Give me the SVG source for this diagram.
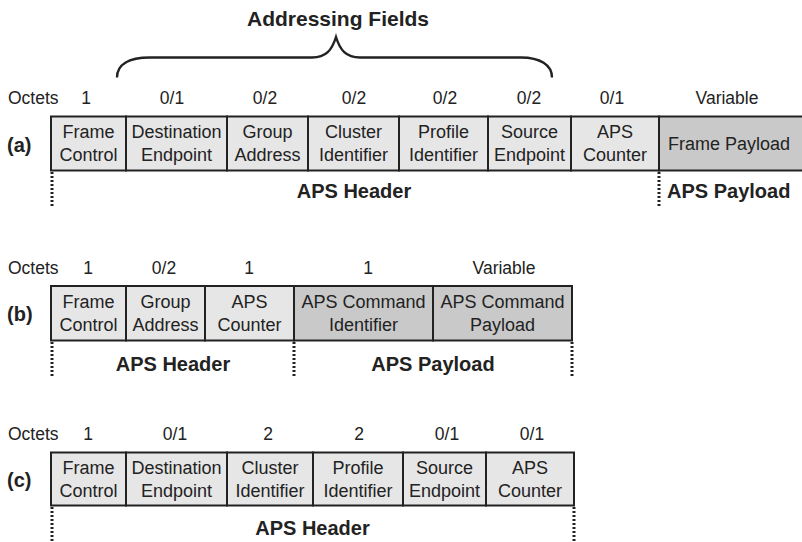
<svg xmlns="http://www.w3.org/2000/svg" width="802" height="542" viewBox="0 0 802 542">
<style>
  text { font-family: "Liberation Sans", Arial, sans-serif; fill: #222; }
  .t { font-size: 18px; text-anchor: middle; }
  .o { font-size: 17.5px; text-anchor: middle; }
  .ol { font-size: 17.5px; }
  .b { font-size: 20px; font-weight: bold; text-anchor: middle; }
  .lab { font-size: 20px; font-weight: bold; }
  .h { fill: #e6e6e6; stroke: #222; stroke-width: 2; }
  .p { fill: #c9c9c9; stroke: #222; stroke-width: 2; }
  .dot { stroke: #222; stroke-width: 3; stroke-dasharray: 2 2; fill: none; }
  .brace { stroke: #222; stroke-width: 2.4; fill: none; }
</style>
<rect width="802" height="542" fill="#fff"/>

<!-- Addressing Fields brace -->
<g id="addressing-fields">
  <text class="b" x="338" y="26" style="font-size:21px">Addressing Fields</text>
  <path class="brace" d="M117,77.5 C117,65 128,57.5 150,57.5 L312,57.5 C326,57.5 332,50 336,37 C340,50 346,57.5 360,57.5 L521,57.5 C540,57.5 552,65 552,77.5"/>
</g>

<!-- (a) -->
<g id="row-a-octets">
  <text class="ol" x="8" y="104">Octets</text>
  <text class="o" x="86" y="104">1</text>
  <text class="o" x="172" y="104">0/1</text>
  <text class="o" x="265" y="104">0/2</text>
  <text class="o" x="354" y="104">0/2</text>
  <text class="o" x="445" y="104">0/2</text>
  <text class="o" x="529" y="104">0/2</text>
  <text class="o" x="612" y="104">0/1</text>
  <text class="o" x="727" y="104">Variable</text>
</g>
<text class="lab" x="7" y="152">(a)</text>
<g id="a-frame-control"><rect class="h" x="51" y="116.5" width="75" height="54"/><text class="t" x="88.5" y="138">Frame</text><text class="t" x="88.5" y="161">Control</text></g>
<g id="a-dest-endpoint"><rect class="h" x="126" y="116.5" width="101" height="54"/><text class="t" x="176.5" y="138">Destination</text><text class="t" x="176.5" y="161">Endpoint</text></g>
<g id="a-group-address"><rect class="h" x="227" y="116.5" width="81" height="54"/><text class="t" x="267.5" y="138">Group</text><text class="t" x="267.5" y="161">Address</text></g>
<g id="a-cluster-id"><rect class="h" x="308" y="116.5" width="91" height="54"/><text class="t" x="353.5" y="138">Cluster</text><text class="t" x="353.5" y="161">Identifier</text></g>
<g id="a-profile-id"><rect class="h" x="399" y="116.5" width="89" height="54"/><text class="t" x="443.5" y="138">Profile</text><text class="t" x="443.5" y="161">Identifier</text></g>
<g id="a-source-endpoint"><rect class="h" x="488" y="116.5" width="83" height="54"/><text class="t" x="529.5" y="138">Source</text><text class="t" x="529.5" y="161">Endpoint</text></g>
<g id="a-aps-counter"><rect class="h" x="571" y="116.5" width="88" height="54"/><text class="t" x="615" y="138">APS</text><text class="t" x="615" y="161">Counter</text></g>
<g id="a-frame-payload"><rect class="p" x="659" y="116.5" width="146" height="54"/><text class="t" x="729" y="149.5">Frame Payload</text></g>
<g id="a-labels">
  <text class="b" x="354" y="198">APS Header</text>
  <text class="lab" x="667" y="198">APS Payload</text>
</g>

<!-- (b) -->
<g id="row-b-octets">
  <text class="ol" x="8" y="273.5">Octets</text>
  <text class="o" x="88" y="273.5">1</text>
  <text class="o" x="164" y="273.5">0/2</text>
  <text class="o" x="249" y="273.5">1</text>
  <text class="o" x="368" y="273.5">1</text>
  <text class="o" x="504" y="273.5">Variable</text>
</g>
<text class="lab" x="7" y="321">(b)</text>
<g id="b-frame-control"><rect class="h" x="51" y="286" width="75" height="54.5"/><text class="t" x="88.5" y="308">Frame</text><text class="t" x="88.5" y="331">Control</text></g>
<g id="b-group-address"><rect class="h" x="126" y="286" width="79" height="54.5"/><text class="t" x="165.5" y="308">Group</text><text class="t" x="165.5" y="331">Address</text></g>
<g id="b-aps-counter"><rect class="h" x="205" y="286" width="89" height="54.5"/><text class="t" x="249.5" y="308">APS</text><text class="t" x="249.5" y="331">Counter</text></g>
<g id="b-cmd-id"><rect class="p" x="294" y="286" width="139" height="54.5"/><text class="t" x="363.5" y="308">APS Command</text><text class="t" x="363.5" y="331">Identifier</text></g>
<g id="b-cmd-payload"><rect class="p" x="433" y="286" width="139" height="54.5"/><text class="t" x="502.5" y="308">APS Command</text><text class="t" x="502.5" y="331">Payload</text></g>
<g id="b-labels">
  <text class="b" x="173" y="371">APS Header</text>
  <text class="b" x="433" y="371">APS Payload</text>
</g>

<!-- (c) -->
<g id="row-c-octets">
  <text class="ol" x="8" y="440">Octets</text>
  <text class="o" x="88" y="440">1</text>
  <text class="o" x="175" y="440">0/1</text>
  <text class="o" x="268" y="440">2</text>
  <text class="o" x="359" y="440">2</text>
  <text class="o" x="447" y="440">0/1</text>
  <text class="o" x="532" y="440">0/1</text>
</g>
<text class="lab" x="7" y="487">(c)</text>
<g id="c-frame-control"><rect class="h" x="51" y="452.5" width="75" height="53"/><text class="t" x="88.5" y="473.5">Frame</text><text class="t" x="88.5" y="496.5">Control</text></g>
<g id="c-dest-endpoint"><rect class="h" x="126" y="452.5" width="101" height="53"/><text class="t" x="176.5" y="473.5">Destination</text><text class="t" x="176.5" y="496.5">Endpoint</text></g>
<g id="c-cluster-id"><rect class="h" x="227" y="452.5" width="86" height="53"/><text class="t" x="270" y="473.5">Cluster</text><text class="t" x="270" y="496.5">Identifier</text></g>
<g id="c-profile-id"><rect class="h" x="313" y="452.5" width="90" height="53"/><text class="t" x="358" y="473.5">Profile</text><text class="t" x="358" y="496.5">Identifier</text></g>
<g id="c-source-endpoint"><rect class="h" x="403" y="452.5" width="83" height="53"/><text class="t" x="444.5" y="473.5">Source</text><text class="t" x="444.5" y="496.5">Endpoint</text></g>
<g id="c-aps-counter"><rect class="h" x="486" y="452.5" width="88" height="53"/><text class="t" x="530" y="473.5">APS</text><text class="t" x="530" y="496.5">Counter</text></g>
<g id="c-labels">
  <text class="b" x="312.5" y="535">APS Header</text>
</g>

<!-- dotted extent lines -->
<g id="connectors">
  <line class="dot" x1="52" y1="172" x2="52" y2="208"/>
  <line class="dot" x1="659" y1="172" x2="659" y2="208"/>
  <line class="dot" x1="52" y1="342" x2="52" y2="378"/>
  <line class="dot" x1="294" y1="342" x2="294" y2="378"/>
  <line class="dot" x1="572" y1="342" x2="572" y2="378"/>
  <line class="dot" x1="52" y1="507" x2="52" y2="542"/>
  <line class="dot" x1="574" y1="507" x2="574" y2="542"/>
</g>
</svg>
